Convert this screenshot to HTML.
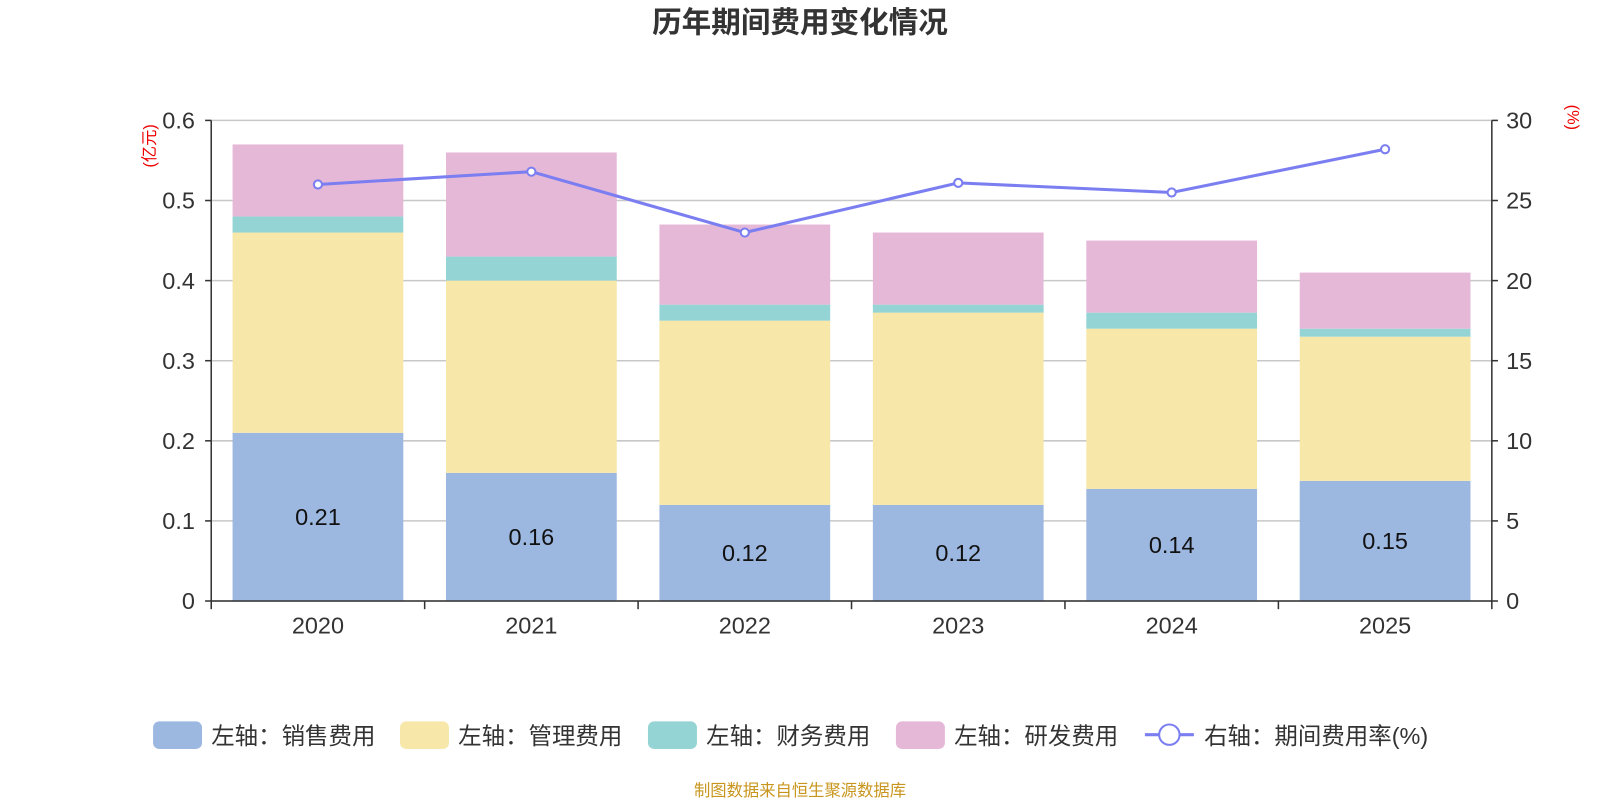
<!DOCTYPE html>
<html><head><meta charset="utf-8"><style>
body{margin:0;background:#fff;font-family:"Liberation Sans","Noto Sans CJK SC",sans-serif}
svg text{font-family:"Liberation Sans","Noto Sans CJK SC",sans-serif}
</style></head><body>
<svg id="c" width="1600" height="800" xmlns="http://www.w3.org/2000/svg">
<g transform="scale(1.0204)">
<text x="784" y="32" text-anchor="middle" font-size="29" font-weight="bold" fill="#333">历年期间费用变化情况</text>
<text transform="translate(152,143) rotate(-90)" text-anchor="middle" font-size="16" fill="#e00">(亿元)</text>
<text transform="translate(1536,115) rotate(90)" text-anchor="middle" font-size="16" fill="#e00">(%)</text>
<g id="grid"></g><g id="bars"></g><g id="axes"></g><g id="line"></g>
<g id="legend" font-size="23" fill="#333">
<rect x="150" y="707" width="48" height="27" rx="6" fill="#9cb7e0"/>
<text x="207" y="729">左轴：销售费用</text>
<rect x="392" y="707" width="48" height="27" rx="6" fill="#f7e7a9"/>
<text x="449" y="729">左轴：管理费用</text>
<rect x="635" y="707" width="48" height="27" rx="6" fill="#95d4d4"/>
<text x="692" y="729">左轴：财务费用</text>
<rect x="878" y="707" width="48" height="27" rx="6" fill="#e6b8d8"/>
<text x="935" y="729">左轴：研发费用</text>
<line x1="1122" y1="720" x2="1170" y2="720" stroke="#7b7ef0" stroke-width="3"/>
<circle cx="1146" cy="720" r="10" fill="#fff" stroke="#7b7ef0" stroke-width="2"/>
<text x="1180" y="729">右轴：期间费用率(%)</text>
</g>
<text x="784" y="780" text-anchor="middle" font-size="16" fill="#c8961e">制图数据来自恒生聚源数据库</text>
</g>
</svg>
<script>
const categories=["2020","2021","2022","2023","2024","2025"];
const sales=[0.21,0.16,0.12,0.12,0.14,0.15];
const mgmt=[0.25,0.24,0.23,0.24,0.20,0.18];
const fin=[0.02,0.03,0.02,0.01,0.02,0.01];
const rd=[0.09,0.13,0.10,0.09,0.09,0.07];
const rate=[26.0,26.8,23.0,26.1,25.5,28.2];
const leftTicks=[0,0.1,0.2,0.3,0.4,0.5,0.6];
const rightTicks=[0,5,10,15,20,25,30];
const NS="http://www.w3.org/2000/svg";
const X0=207,X1=1462,Y0=589,Y1=118;
const band=(X1-X0)/categories.length;
const yL=v=>Y0-(v/0.6)*(Y0-Y1);
const yR=v=>Y0-(v/30)*(Y0-Y1);
const xC=i=>X0+band*(i+0.5);
function mk(tag,attrs,parent,txt){const e=document.createElementNS(NS,tag);for(const k in attrs)e.setAttribute(k,attrs[k]);if(txt!==undefined)e.textContent=txt;document.getElementById(parent).appendChild(e);return e;}
leftTicks.forEach((t,i)=>{
 const g=mk('line',{x1:X0,x2:X1,y1:yL(t),y2:yL(t),stroke:'#c8c8c8','stroke-width':1.5},'grid');
 
 
 const a=mk('text',{x:X0-16,y:yL(t)+8,'text-anchor':'end','font-size':23,fill:'#333'},'axes',String(t));
 
 
 mk('line',{x1:X0-6,x2:X0,y1:yL(t),y2:yL(t),stroke:'#333','stroke-width':1.5},'axes');
});
rightTicks.forEach(t=>{
 const a=mk('text',{x:X1+14,y:yR(t)+8,'font-size':23,fill:'#333'},'axes',String(t));
 
 
 mk('line',{x1:X1,x2:X1+6,y1:yR(t),y2:yR(t),stroke:'#333','stroke-width':1.5},'axes');
});
mk('line',{x1:X0,x2:X0,y1:Y1,y2:Y0,stroke:'#333','stroke-width':1.5},'axes');
mk('line',{x1:X1,x2:X1,y1:Y1,y2:Y0,stroke:'#333','stroke-width':1.5},'axes');
mk('line',{x1:X0,x2:X1,y1:Y0,y2:Y0,stroke:'#333','stroke-width':1.5},'axes');
for(let i=0;i<=categories.length;i++)mk('line',{x1:X0+band*i,x2:X0+band*i,y1:Y0,y2:Y0+8,stroke:'#333','stroke-width':1.5},'axes');
const series=[[sales,'#9cb7e0','sales'],[mgmt,'#f7e7a9','mgmt'],[fin,'#95d4d4','fin'],[rd,'#e6b8d8','rd']];
const bw=band*0.8;
categories.forEach((c,i)=>{
 const l=mk('text',{x:xC(i),y:Y0+32,'text-anchor':'middle','font-size':23,fill:'#333'},'axes',c);
 
 
 let base=0;
 series.forEach(([arr,col,nm])=>{
  const top=base+arr[i];
  const r=mk('rect',{x:xC(i)-bw/2,y:yL(top),width:bw,height:yL(base)-yL(top),fill:col},'bars');
  
  
  base=top;
 });
 const v=mk('text',{x:xC(i),y:(yL(sales[i])+Y0)/2+8,'text-anchor':'middle','font-size':23,fill:'#111'},'bars',sales[i].toFixed(2));
 
 
});
const pts=rate.map((r,i)=>xC(i)+','+yR(r)).join(' ');
const pl=mk('polyline',{points:pts,fill:'none',stroke:'#7b7ef0','stroke-width':3},'line');


rate.forEach((r,i)=>{
 const p=mk('circle',{cx:xC(i),cy:yR(r),r:4,fill:'#fff',stroke:'#7b7ef0','stroke-width':2},'line');
 
 
});
</script>
</body></html>
